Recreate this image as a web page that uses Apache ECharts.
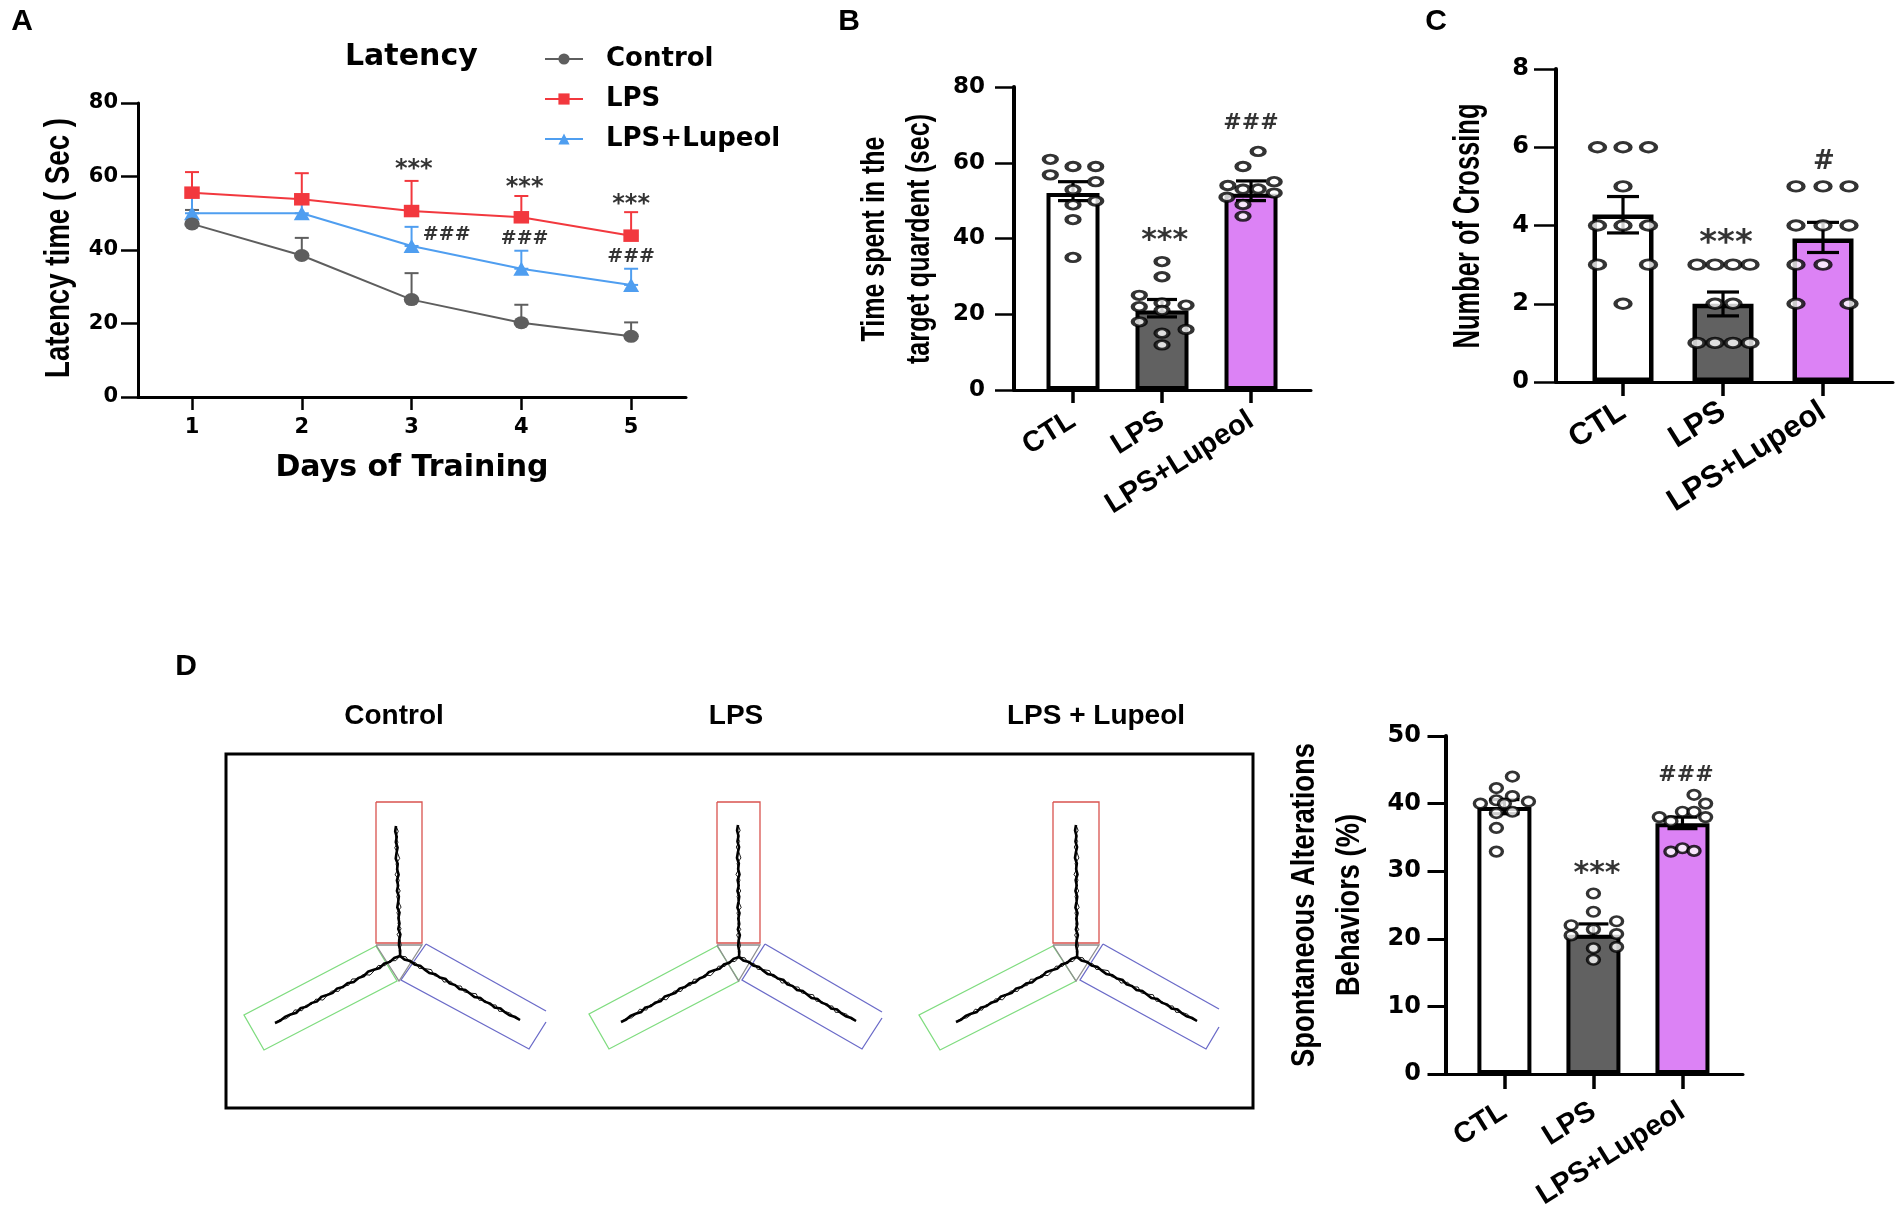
<!DOCTYPE html>
<html><head><meta charset="utf-8">
<style>html,body{margin:0;padding:0;background:#fff}#c{width:1902px;height:1224px}</style>
<script src="https://cdn.jsdelivr.net/npm/echarts@6/dist/echarts.min.js"></script>
</head><body><div id="c"></div>
<script>
const days=[1,2,3,4,5];
const controlMean=[47.1,38.5,26.5,20.2,16.5], controlErr=[50.9,43.3,33.7,25.1,20.3];
const lpsMean=[55.6,53.8,50.6,48.9,43.9], lpsErr=[61.2,60.9,58.8,54.7,50.3];
const lupeolMean=[50,50,41.1,34.9,30.5], lupeolErr=[54.5,54,46.3,39.8,34.9];
const groups=['CTL','LPS','LPS+Lupeol'];
const barColors=['#ffffff','#616161','#dc82f5'];
const bMean=[52,21,51.8], bHi=[55,23.9,55.2], bLo=[50,19.3,50];
const bCtlY=[60.9,56.8,59,59,55,52.9,49.9,48.9,45,35], bCtlX=[-.255,-.255,0,.255,.255,0,.255,0,0,0];
const bLpsY=[33.9,29.9,25,22,23,22.4,21,18,16,15,11.9], bLpsX=[0,0,-.255,-.255,0,.27,0,-.255,.27,0,0];
const bLupY=[63,59,54,55,53,53.1,50.9,52,49,45.9], bLupX=[.08,-.09,-.26,.26,-.09,.08,-.27,.26,-.09,-.09];
const cMean=[4.28,2,3.67], cHi=[4.74,2.3,4.08], cLo=[3.81,1.69,3.31];
const cCtlY=[6,6,6,5,4,4,4,3,3,2], cCtlX=[-.255,0,.255,0,-.255,0,.255,-.255,.255,0];
const cLpsY=[3,3,3,3,2,2,1,1,1,1], cLpsX=[-.26,-.08,.1,.27,-.08,.1,-.26,-.08,.1,.27];
const cLupY=[5,5,5,4,4,4,3,3,2,2], cLupX=[-.27,0,.26,-.27,0,.26,-.27,0,-.27,.26];
const dMean=[39.5,20.6,37.1], dHi=[40.6,22.2,38], dLo=[38.5,20.3,36.3];
const dCtlY=[44,42.3,41.1,40.5,40,40.3,38.8,38.6,36.4,32.9,40], dCtlX=[.09,-.09,.09,-.09,-.27,.27,.09,-.09,-.09,-.09,0];
const dLpsY=[26.7,24,22,22.6,21.4,20.5,20.7,18.6,18.8,16.9], dLpsX=[0,0,-.25,.26,0,-.25,.26,0,.26,0];
const dLupY=[41.3,40,38.8,38.8,38,38,37.4,32.9,33.4,33], dLupX=[.13,.26,0,.13,-.26,.26,-.13,-.13,0,.13];
const aMarks=[[3.02,61.8,'***',24],[4.03,57,'***',24],[5,52.4,'***',24],[3.32,44.2,'###',19],[4.03,43,'###',19],[5,38.2,'###',19]];
const bMarks=[[2.03,39.4,'***',30],[3,70.4,'###',22]];
const cMarks=[[2.03,3.51,'***',34],[3.01,5.62,'#',26]];
const dMarks=[[2.04,29.5,'***',30],[3.04,44.15,'###',22]];

const TICK='"DejaVu Sans"', BODY='"Liberation Sans"';
const grids=[
 {left:138,top:103,width:548,height:294},
 {left:1014,top:87,width:297,height:303},
 {left:1556,top:69,width:337,height:313},
 {left:1446,top:736,width:297,height:338}
];
const grid=grids.map(g=>({...g,containLabel:false}));
const xAxis=[],yAxis=[],series=[];
function axes(i,xmin,xmax,ticks,fmt,ymax,yint,o){
 xAxis.push({gridIndex:i,type:'value',min:xmin,max:xmax,splitLine:{show:false},
  axisLine:{onZero:false,lineStyle:{color:'#000',width:o.xw}},
  axisTick:{customValues:ticks,length:o.xtl,lineStyle:{color:'#000',width:o.xtw}},
  axisLabel:{customValues:ticks,formatter:fmt,rotate:o.rot||0,margin:o.xm,color:'#000',fontFamily:o.xfam||TICK,fontWeight:'bold',fontSize:o.xfs},
  ...(o.xname||{})});
 yAxis.push({gridIndex:i,type:'value',min:0,max:ymax,interval:yint,splitLine:{show:false},
  axisLine:{onZero:false,lineStyle:{color:'#000',width:o.yw}},
  axisTick:{length:o.ytl,lineStyle:{color:'#000',width:o.ytw}},
  axisLabel:{margin:o.ym,padding:[o.yp,0,0,0],color:'#000',fontFamily:TICK,fontWeight:'bold',fontSize:o.yfs}});
}
function errSeries(i,xs,his,los,color,width,cap,z){
 series.push({type:'custom',xAxisIndex:i,yAxisIndex:i,z,silent:true,clip:false,
  data:xs.map((x,k)=>[x,his[k],los[k]]),
  encode:{x:0,y:[1,2]},
  renderItem(p,api){
   const a=api.coord([api.value(0),api.value(1)]),b=api.coord([api.value(0),api.value(2)]);
   const st={stroke:color,lineWidth:width,fill:null};
   return {type:'group',children:[
    {type:'line',shape:{x1:a[0],y1:a[1],x2:b[0],y2:b[1]},style:st},
    {type:'line',shape:{x1:a[0]-cap/2,y1:a[1],x2:a[0]+cap/2,y2:a[1]},style:st},
    {type:'line',shape:{x1:b[0]-cap/2,y1:b[1],x2:b[0]+cap/2,y2:b[1]},style:st}]};
  }});
}
function marks(i,list){
 series.push({type:'scatter',xAxisIndex:i,yAxisIndex:i,z:8,silent:true,symbolSize:1,itemStyle:{color:'transparent'},
  data:list.map(m=>({value:[m[0],m[1]],label:{show:true,position:'inside',formatter:m[2],color:'#000',fontFamily:TICK,fontWeight:'bold',fontSize:m[3]}}))});
}
function barPanel(i,mean,hi,lo,dots,barW,bw,cap,dot,dw){
 const xs=groups.map((_,k)=>k+1);
 series.push({type:'bar',xAxisIndex:i,yAxisIndex:i,z:2,barWidth:barW,silent:true,
  data:mean.map((v,k)=>({value:[k+1,v],itemStyle:{color:barColors[k],borderColor:'#000',borderWidth:bw}}))});
 errSeries(i,xs,hi,lo,'#000',3.2,cap,3);
 dots.forEach((d,k)=>series.push({type:'scatter',xAxisIndex:i,yAxisIndex:i,z:4,silent:true,symbol:'circle',symbolSize:dot,
  itemStyle:{color:'#fff',borderColor:'#000',borderWidth:dw},
  data:d.y.map((v,j)=>[k+1+d.x[j],v])}));
}
// Panel A
axes(0,.508,5.5,days,v=>String(v),80,20,{xw:3,xtl:13,xtw:2.5,xm:20,xfs:21,yw:3,ytl:17,ytw:2.5,ym:20,yfs:21,yp:3,
 xname:{name:'Days of Training',nameLocation:'middle',nameGap:56,nameTextStyle:{color:'#000',fontFamily:TICK,fontWeight:'bold',fontSize:30}}});
const lineCfg=[['Control',controlMean,controlErr,'#5e5e5e','circle',[15.5,13]],['LPS',lpsMean,lpsErr,'#f2383e','rect',[15.5,12.5]],['LPS+Lupeol',lupeolMean,lupeolErr,'#4f9ef0','triangle',[16,14]]];
errSeries(0,days,lupeolErr,lupeolMean,lineCfg[2][3],2,14,1);
errSeries(0,days,lpsErr,lpsMean,lineCfg[1][3],2,14,1);
errSeries(0,days,controlErr,controlMean,lineCfg[0][3],2,14,1);
[lineCfg[2],lineCfg[0],lineCfg[1]].forEach(c=>series.push({type:'line',name:c[0],xAxisIndex:0,yAxisIndex:0,z:3,silent:true,
 data:days.map((d,k)=>[d,c[1][k]]),symbol:c[4],symbolSize:c[5],showSymbol:true,lineStyle:{color:c[3],width:2},itemStyle:{color:c[3]}}));
marks(0,aMarks);
const barFmt=v=>groups[v-1];
// Panel B
axes(1,.337,3.674,[1,2,3],barFmt,80,20,{xw:3,xtl:13,xtw:3.5,xm:28,xfs:29,xfam:BODY,rot:32,yw:4,ytl:19,ytw:2.5,ym:29,yfs:23,yp:4});
barPanel(1,bMean,bHi,bLo,[{y:bCtlY,x:bCtlX},{y:bLpsY,x:bLpsX},{y:bLupY,x:bLupX}],53,4,30,[13,8.5],3.5);
marks(1,bMarks);
// Panel C
axes(2,.33,3.7,[1,2,3],barFmt,8,2,{xw:3,xtl:14,xtw:3.5,xm:27,xfs:31,xfam:BODY,rot:32,yw:4,ytl:22,ytw:2.5,ym:27,yfs:24,yp:5});
barPanel(2,cMean,cHi,cLo,[{y:cCtlY,x:cCtlX},{y:cLpsY,x:cLpsX},{y:cLupY,x:cLupX}],61,4.5,32,[15,9.5],3.5);
marks(2,cMarks);
// Panel D (bars)
axes(3,.344,3.68,[1,2,3],barFmt,50,10,{xw:3,xtl:15,xtw:3.5,xm:35,xfs:29,xfam:BODY,rot:32,yw:4,ytl:18.5,ytw:3,ym:25,yfs:24,yp:5});
barPanel(3,dMean,dHi,dLo,[{y:dCtlY,x:dCtlX},{y:dLpsY,x:dLpsX},{y:dLupY,x:dLupX}],54,4,30,[12,9.5],3);
marks(3,dMarks);

const mc=document.createElement('canvas').getContext('2d');
function vtext(text,x,y,size,len){
 mc.font=`bold ${size}px ${BODY}`;
 const s=len/mc.measureText(text).width;
 return {type:'text',x,y,rotation:Math.PI/2,scaleX:s,style:{text,fill:'#000',font:`bold ${size}px ${BODY}`,align:'center',verticalAlign:'middle'},silent:true};
}
function htext(text,x,y,size){
 return {type:'text',x,y,style:{text,fill:'#000',font:`bold ${size}px ${BODY}`,align:'center',verticalAlign:'middle'},silent:true};
}
const graphic=[
 htext('A',22,22,30),htext('B',849,22,30),htext('C',1436,22,30),htext('D',186,667,30),
 vtext('Latency time ( Sec )',59,248,35,260),
 vtext('Time spent in the',875,239,33,205),
 vtext('target quardent (sec)',920,239,33,250),
 vtext('Number of Crossing',1469,226,36,245),
 vtext('Spontaneous Alterations',1305,905,34,324),
 vtext('Behaviors (%)',1350,905,34,182),
 htext('Control',394,716,28),htext('LPS',736,716,28),htext('LPS + Lupeol',1096,716,28),
 {type:'rect',shape:{x:226,y:754,width:1027,height:354},style:{fill:null,stroke:'#000',lineWidth:3},silent:true}
];
// Y-maze track pictures of panel D
const mazes=[
 {red:[376,802,46,141],green:[[376,946],[244,1015],[264,1050],[397,981]],blue:[[426,944],[546,1011],[546,1022],[529,1049],[401,980]],top:[396,826],c:[400,956],l:[275,1023],r:[520,1020]},
 {red:[717,802,43,141],green:[[717,946],[589,1014],[609,1049],[739,981]],blue:[[765,944],[882,1012],[882,1018],[862,1049],[742,980]],top:[738,825],c:[739,957],l:[621,1022],r:[856,1021]},
 {red:[1053,802,46,141],green:[[1053,946],[919,1015],[940,1050],[1076,981]],blue:[[1103,944],[1219,1009],[1219,1027],[1206,1049],[1080,980]],top:[1076,825],c:[1077,957],l:[956,1022],r:[1197,1021]}
];
const wobble=[0,1.4,-.6,1,-1.3,.5,1.8,-.8,.3,-1.6,1.1,-.4,1.5,-1,.2,1.7,-1.2,.6,-.7,1.3,-1.5,.4,1,-.5,0];
function track(a,b,k,w){
 const dx=b[0]-a[0],dy=b[1]-a[1],L=Math.hypot(dx,dy),n=wobble.length-1;
 const pts=wobble.map((o,i)=>{const t=i/n;return [a[0]+dx*t-dy/L*o*k,a[1]+dy*t+dx/L*o*k];});
 return {type:'polyline',shape:{points:pts},style:{fill:null,stroke:'#000',lineWidth:w},silent:true};
}
const ln=(points,stroke)=>({type:'polyline',shape:{points},style:{fill:null,stroke,lineWidth:1.3},silent:true});
mazes.forEach(m=>{
 const [x,y,w,h]=m.red, cx=x+w/2;
 graphic.push(ln([[x,y],[x+w,y],[x+w,y+h],[x,y+h],[x,y]],'#d9534f'));
 graphic.push(ln([...m.green,m.green[0]],'#7fdc7f'));
 graphic.push(ln([m.blue[0],m.blue[1]],'#6a6ac8'));
 graphic.push(ln([m.blue[2],m.blue[3],m.blue[4],m.blue[0]],'#6a6ac8'));
 graphic.push(ln([[x,945],[x+w,945],[cx,981],[x,945]],'#8f8f8f'));
 [[m.top,m.c],[m.c,m.l],[m.c,m.r]].forEach(([a,b])=>{
  graphic.push(track(a,b,.7,2.6));
  graphic.push(track(a,b,-1.5,.9));
 });
});

const chart=echarts.init(document.getElementById('c'),null,{width:1902,height:1224});
chart.setOption({animation:false,backgroundColor:'#fff',
 title:{text:'Latency',left:340,top:37,textStyle:{color:'#000',fontFamily:TICK,fontWeight:'bold',fontSize:30}},
 legend:{data:['Control','LPS','LPS+Lupeol'],orient:'vertical',left:539,top:41,itemWidth:38,itemHeight:14,itemGap:14,selectedMode:false,
  textStyle:{color:'#000',fontFamily:TICK,fontWeight:'bold',fontSize:26,padding:[0,0,0,18]}},
 grid,xAxis,yAxis,series,graphic});
</script></body></html>
